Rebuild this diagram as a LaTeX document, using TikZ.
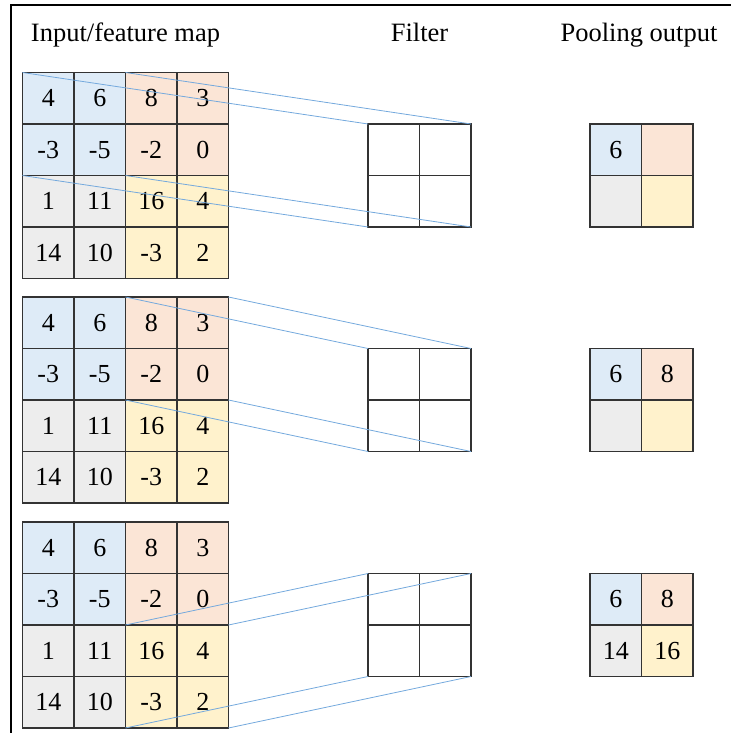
\documentclass[tikz,border=0pt]{standalone}
\usepackage{fontspec}
\setmainfont{Liberation Serif}
\definecolor{cb}{HTML}{DEEBF7}
\definecolor{cp}{HTML}{FBE5D6}
\definecolor{cg}{HTML}{EDEDED}
\definecolor{cy}{HTML}{FFF2CC}
\definecolor{gridc}{HTML}{333333}
\definecolor{linkc}{HTML}{74A9DD}
\begin{document}
\begin{tikzpicture}[x=1pt,y=-1pt,
  cell/.style={draw=gridc, line width=1.7pt, minimum size=51.5pt, inner sep=0pt, outer sep=0pt,
    font=\rmfamily\fontsize{26}{30}\selectfont},
  link/.style={draw=linkc, line width=0.8pt},
  title/.style={anchor=base, inner sep=0pt, font=\rmfamily\fontsize{26.5}{30}\selectfont}]
\useasboundingbox (0,0) rectangle (731,733);

% outer frame
\draw[line width=2pt] (11,733) -- (11,5) -- (731,5);

% column titles
\node[title] (t1) at (125.5,41.7) {Input/feature map};
\node[title] (t2) at (419.5,41.7) {Filter};
\node[title] (t3) at (639,41.7) {Pooling output};

% three copies of the 4x4 feature map
\foreach \k/\y in {1/72.5, 2/297, 3/522}{
  \foreach \v/\col [count=\i from 0] in {4/cb,6/cb,8/cp,3/cp,-3/cb,-5/cb,-2/cp,0/cp,
      1/cg,11/cg,16/cy,4/cy,14/cg,10/cg,-3/cy,2/cy}{
    \pgfmathtruncatemacro{\r}{int(\i/4)}
    \pgfmathtruncatemacro{\c}{mod(\i,4)}
    \node[cell, fill=\col] (g\k-\r-\c) at (22.5+51.5*\c+25.75, \y+51.5*\r+25.75) {\v};
  }
  % 2x2 filter window
  \foreach \r in {0,1}{
    \foreach \c in {0,1}{
      \node[cell, fill=white] (f\k-\r-\c) at (368+51.5*\c+25.75, \y+51.5+51.5*\r+25.75) {};
    }
  }
}

% pooling outputs
\foreach \k/\y/\a/\b/\cc/\d in {1/124/6/{}/{}/{}, 2/348.5/6/8/{}/{}, 3/573.5/6/8/14/16}{
  \node[cell, fill=cb] (p\k-0-0) at (590+25.75, \y+25.75) {\a};
  \node[cell, fill=cp] (p\k-0-1) at (590+51.5+25.75, \y+25.75) {\b};
  \node[cell, fill=cg] (p\k-1-0) at (590+25.75, \y+51.5+25.75) {\cc};
  \node[cell, fill=cy] (p\k-1-1) at (590+51.5+25.75, \y+51.5+25.75) {\d};
}

% projection lines from the pooled window to the filter
\draw[link] (g1-0-0.north west) -- (f1-0-0.north west);
\draw[link] (g1-0-1.north east) -- (f1-0-1.north east);
\draw[link] (g1-1-0.south west) -- (f1-1-0.south west);
\draw[link] (g1-1-1.south east) -- (f1-1-1.south east);

\draw[link] (g2-0-2.north west) -- (f2-0-0.north west);
\draw[link] (g2-0-3.north east) -- (f2-0-1.north east);
\draw[link] (g2-1-2.south west) -- (f2-1-0.south west);
\draw[link] (g2-1-3.south east) -- (f2-1-1.south east);

\draw[link] (g3-2-2.north west) -- (f3-0-0.north west);
\draw[link] (g3-2-3.north east) -- (f3-0-1.north east);
\draw[link] (g3-3-2.south west) -- (f3-1-0.south west);
\draw[link] (g3-3-3.south east) -- (f3-1-1.south east);
\end{tikzpicture}
\end{document}
